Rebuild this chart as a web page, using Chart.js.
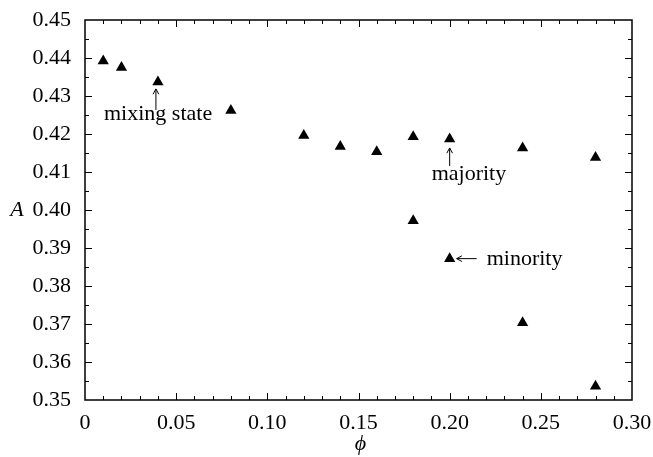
<!DOCTYPE html>
<html lang="en">

<head>
    <meta charset="UTF-8">
    <title>A versus phi</title>
    <style>
        body {
            margin: 0;
            background: #fff;
        }

        .chart-box {
            width: 653px;
            height: 457px;
        }
    </style>
</head>

<body>
    <div class="chart-box">
        <canvas id="phiChart"></canvas>
    </div>
    <script src="https://cdn.jsdelivr.net/npm/chart.js"></script>
    <script>
        // upper branch (mixing state, then majority)
        const phiMajority = [0.01, 0.02, 0.04, 0.08, 0.12, 0.14, 0.16, 0.18, 0.20, 0.24, 0.28];
        const aMajority = [0.4392, 0.4375, 0.4337, 0.4262, 0.4196, 0.4167, 0.4153, 0.4193, 0.4187, 0.4163, 0.4138];

        // lower branch (minority)
        const phiMinority = [0.18, 0.20, 0.24, 0.28];
        const aMinority = [0.3972, 0.3872, 0.3703, 0.3536];

        const xTickValues = [0, 0.05, 0.10, 0.15, 0.20, 0.25, 0.30];
        const xTickLabels = ['0', '0.05', '0.10', '0.15', '0.20', '0.25', '0.30'];
        const yTickValues = [0.35, 0.36, 0.37, 0.38, 0.39, 0.40, 0.41, 0.42, 0.43, 0.44, 0.45];
        const yTickLabels = ['0.35', '0.36', '0.37', '0.38', '0.39', '0.40', '0.41', '0.42', '0.43', '0.44', '0.45'];

        const serif = "'Liberation Serif', 'Times New Roman', serif";

        const toPoints = (xs, ys) => xs.map((x, i) => ({ x: x, y: ys[i] }));

        // frame with inward tick marks on all four sides
        const framePlugin = {
            id: 'frame',
            afterDraw(chart) {
                const ctx = chart.ctx;
                const { left, right, top, bottom } = chart.chartArea;
                const xs = chart.scales.x;
                const ys = chart.scales.y;
                ctx.save();
                ctx.strokeStyle = '#000';
                ctx.lineWidth = 1.5;
                ctx.strokeRect(left, top, right - left, bottom - top);

                ctx.lineWidth = 1;
                ctx.beginPath();
                for (let i = 1; i < 30; i++) {
                    const px = Math.round(xs.getPixelForValue(i / 100)) + 0.5;
                    const len = i % 5 === 0 ? 7 : 4;
                    ctx.moveTo(px, bottom);
                    ctx.lineTo(px, bottom - len);
                    ctx.moveTo(px, top);
                    ctx.lineTo(px, top + len);
                }
                for (let j = 1; j < 20; j++) {
                    const py = Math.round(ys.getPixelForValue(0.35 + j * 0.005)) + 0.5;
                    const len = j % 2 === 0 ? 7 : 4;
                    ctx.moveTo(left, py);
                    ctx.lineTo(left + len, py);
                    ctx.moveTo(right, py);
                    ctx.lineTo(right - len, py);
                }
                ctx.stroke();

                // axis names
                ctx.fillStyle = '#000';
                ctx.font = 'italic 22px ' + serif;
                ctx.textAlign = 'center';
                ctx.textBaseline = 'middle';
                ctx.fillText('A', 17, ys.getPixelForValue(0.40));
                ctx.fillText('\u03d5', (left + right) / 2 + 2, 444);

                // labels with arrows
                ctx.font = '22px ' + serif;
                ctx.textBaseline = 'alphabetic';
                ctx.textAlign = 'left';

                const mx = xs.getPixelForValue(0.04) - 2;
                const my = ys.getPixelForValue(0.4337);
                drawArrow(ctx, mx, my + 28, mx, my + 7);
                ctx.fillText('mixing state', 104, my + 38);

                const jx = xs.getPixelForValue(0.20);
                const jy = ys.getPixelForValue(0.4187);
                drawArrow(ctx, jx, jy + 27, jx, jy + 9);
                ctx.fillText('majority', jx - 18, jy + 41);

                const nx = xs.getPixelForValue(0.20);
                const ny = ys.getPixelForValue(0.3872);
                drawArrow(ctx, nx + 27, ny, nx + 7, ny);
                ctx.fillText('minority', nx + 37, ny + 6);
                ctx.restore();
            }
        };

        function drawArrow(ctx, x0, y0, x1, y1) {
            const ang = Math.atan2(y1 - y0, x1 - x0);
            ctx.beginPath();
            ctx.lineWidth = 1;
            ctx.moveTo(x0, y0);
            ctx.lineTo(x1, y1);
            ctx.moveTo(x1 - 6 * Math.cos(ang - 0.5), y1 - 6 * Math.sin(ang - 0.5));
            ctx.lineTo(x1, y1);
            ctx.lineTo(x1 - 6 * Math.cos(ang + 0.5), y1 - 6 * Math.sin(ang + 0.5));
            ctx.stroke();
        }

        const triangles = {
            pointStyle: 'triangle',
            pointRadius: 6.5,
            pointHoverRadius: 6.5,
            backgroundColor: '#000',
            borderColor: '#000',
            borderWidth: 0,
            showLine: false,
            clip: false
        };

        // keep the plot box fixed: no extra room for overhanging labels
        function noOverhang(scale) {
            scale.paddingLeft = 0;
            scale.paddingRight = 0;
            scale.paddingTop = 0;
            scale.paddingBottom = 0;
        }

        const ctx = document.getElementById('phiChart').getContext('2d');
        new Chart(ctx, {
            type: 'scatter',
            data: {
                datasets: [
                    Object.assign({ label: 'majority', data: toPoints(phiMajority, aMajority) }, triangles),
                    Object.assign({ label: 'minority', data: toPoints(phiMinority, aMinority) }, triangles)
                ]
            },
            options: {
                responsive: true,
                maintainAspectRatio: false,
                animation: false,
                layout: {
                    padding: { left: 0, top: 20, right: 21, bottom: 0 }
                },
                plugins: {
                    legend: { display: false },
                    tooltip: { enabled: false }
                },
                scales: {
                    x: {
                        type: 'linear',
                        min: 0,
                        max: 0.30,
                        border: { display: false },
                        grid: { display: false, drawTicks: false },
                        afterBuildTicks: (scale) => {
                            scale.ticks = xTickValues.map(v => ({ value: v }));
                        },
                        afterFit: (scale) => {
                            scale.height = 57;
                            noOverhang(scale);
                        },
                        ticks: {
                            padding: 10,
                            maxRotation: 0,
                            color: '#000',
                            font: { family: serif, size: 22 },
                            callback: (value, index) => xTickLabels[index]
                        }
                    },
                    y: {
                        type: 'linear',
                        min: 0.35,
                        max: 0.45,
                        border: { display: false },
                        grid: { display: false, drawTicks: false },
                        afterBuildTicks: (scale) => {
                            scale.ticks = yTickValues.map(v => ({ value: v }));
                        },
                        afterFit: (scale) => {
                            scale.width = 85;
                            noOverhang(scale);
                        },
                        ticks: {
                            padding: 14,
                            color: '#000',
                            font: { family: serif, size: 22 },
                            callback: (value, index) => yTickLabels[index]
                        }
                    }
                }
            },
            plugins: [framePlugin]
        });
    </script>
</body>

</html>
